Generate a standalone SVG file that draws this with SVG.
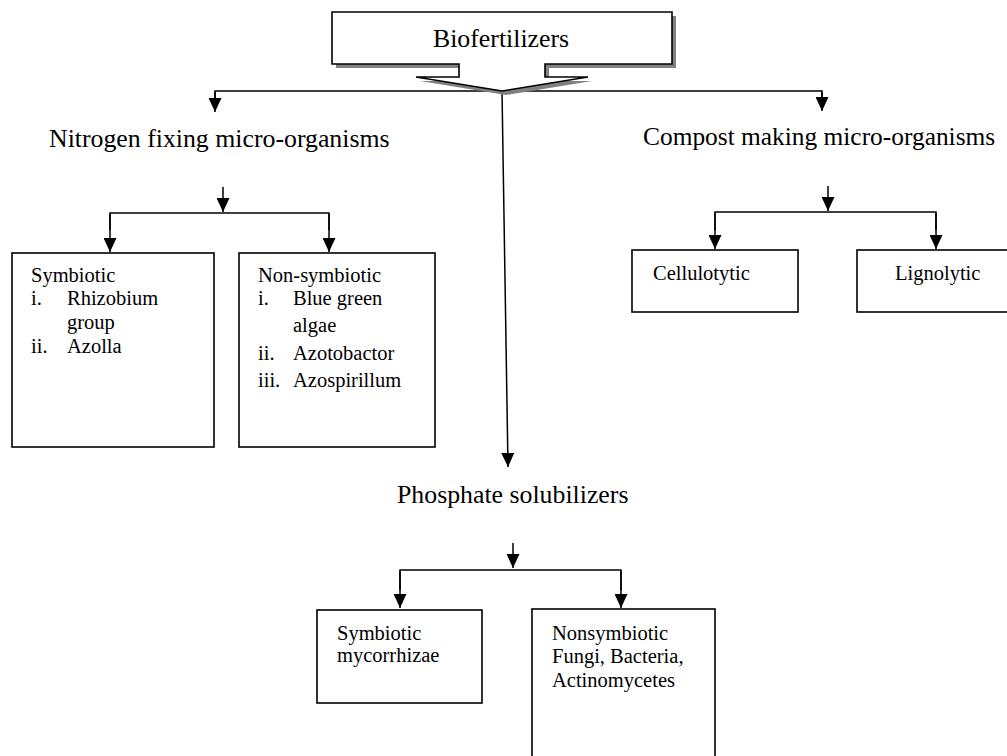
<svg xmlns="http://www.w3.org/2000/svg" width="1007" height="756" viewBox="0 0 1007 756">
<style>
.h{font-family:"Liberation Serif","Times New Roman",serif;font-size:25.8px;fill:#000}
.t{font-family:"Liberation Serif","Times New Roman",serif;font-size:20.5px;fill:#000}
.box{fill:#fff;stroke:#000;stroke-width:1.6}
.ln{fill:none;stroke:#000;stroke-width:1.5}
</style>
<defs>
<marker id="ah" viewBox="0 0 14 13" refX="14" refY="6.5" markerWidth="14" markerHeight="13" markerUnits="userSpaceOnUse" orient="auto">
<path d="M0,0 L14,6.5 L0,13 z" fill="#000"/>
</marker>
</defs>
<rect width="1007" height="756" fill="#fff"/>

<g id="connectors">
<polyline class="ln" points="215,100 215,91 822,91 822,100"/>
<line class="ln" x1="215" y1="92" x2="215" y2="112" marker-end="url(#ah)"/>
<line class="ln" x1="822" y1="92" x2="822" y2="111" marker-end="url(#ah)"/>
<line class="ln" x1="502" y1="91" x2="508" y2="467" marker-end="url(#ah)"/>

<line class="ln" x1="223" y1="187" x2="223" y2="212" marker-end="url(#ah)"/>
<polyline class="ln" points="110,230 110,213 329,213 329,230"/>
<line class="ln" x1="110" y1="214" x2="110" y2="252" marker-end="url(#ah)"/>
<line class="ln" x1="329" y1="214" x2="329" y2="252" marker-end="url(#ah)"/>

<line class="ln" x1="828" y1="186" x2="828" y2="211" marker-end="url(#ah)"/>
<polyline class="ln" points="715,230 715,212 936,212 936,230"/>
<line class="ln" x1="715" y1="213" x2="715" y2="249" marker-end="url(#ah)"/>
<line class="ln" x1="936" y1="213" x2="936" y2="249" marker-end="url(#ah)"/>

<line class="ln" x1="513" y1="543" x2="513" y2="568" marker-end="url(#ah)"/>
<polyline class="ln" points="400,590 400,570 621,570 621,590"/>
<line class="ln" x1="400" y1="571" x2="400" y2="608" marker-end="url(#ah)"/>
<line class="ln" x1="621" y1="571" x2="621" y2="608" marker-end="url(#ah)"/>
</g>

<g id="biofertilizers">
<polygon points="336,16 676,16 676,68 549,68 549,81 592,81 506,95 420,81 463,81 463,68 336,68" fill="#808080"/>
<polygon class="box" points="332,12 672,12 672,64 545,64 545,77 588,77 502,91 416,77 459,77 459,64 332,64"/>
<text class="h" x="433" y="47">Biofertilizers</text>
</g>

<g id="nitrogen">
<text class="h" x="49" y="147">Nitrogen fixing micro-organisms</text>
</g>

<g id="compost">
<text class="h" x="643" y="145" style="font-size:25.4px">Compost making micro-organisms</text>
</g>

<g id="phosphate">
<text class="h" x="397" y="503">Phosphate solubilizers</text>
</g>

<g id="n-symbiotic">
<rect class="box" x="12" y="253" width="202" height="194"/>
<text class="t" x="31" y="282">Symbiotic</text>
<text class="t" x="31" y="305">i.</text>
<text class="t" x="67" y="305">Rhizobium</text>
<text class="t" x="67" y="329">group</text>
<text class="t" x="31" y="353">ii.</text>
<text class="t" x="67" y="353">Azolla</text>
</g>

<g id="n-nonsymbiotic">
<rect class="box" x="239" y="253" width="196" height="194"/>
<text class="t" x="258" y="282">Non-symbiotic</text>
<text class="t" x="258" y="305">i.</text>
<text class="t" x="293" y="305">Blue green</text>
<text class="t" x="293" y="332">algae</text>
<text class="t" x="258" y="360">ii.</text>
<text class="t" x="293" y="360">Azotobactor</text>
<text class="t" x="258" y="387">iii.</text>
<text class="t" x="293" y="387">Azospirillum</text>
</g>

<g id="cellulotytic">
<rect class="box" x="632" y="250" width="166" height="62"/>
<text class="t" x="653" y="280">Cellulotytic</text>
</g>

<g id="lignolytic">
<rect class="box" x="857" y="250" width="160" height="62"/>
<text class="t" x="895" y="280">Lignolytic</text>
</g>

<g id="p-symbiotic">
<rect class="box" x="317" y="610" width="165" height="93"/>
<text class="t" x="337" y="640">Symbiotic</text>
<text class="t" x="337" y="662">mycorrhizae</text>
</g>

<g id="p-nonsymbiotic">
<rect class="box" x="532" y="609" width="183" height="160"/>
<text class="t" x="552" y="640">Nonsymbiotic</text>
<text class="t" x="552" y="663">Fungi, Bacteria,</text>
<text class="t" x="552" y="687">Actinomycetes</text>
</g>
</svg>
